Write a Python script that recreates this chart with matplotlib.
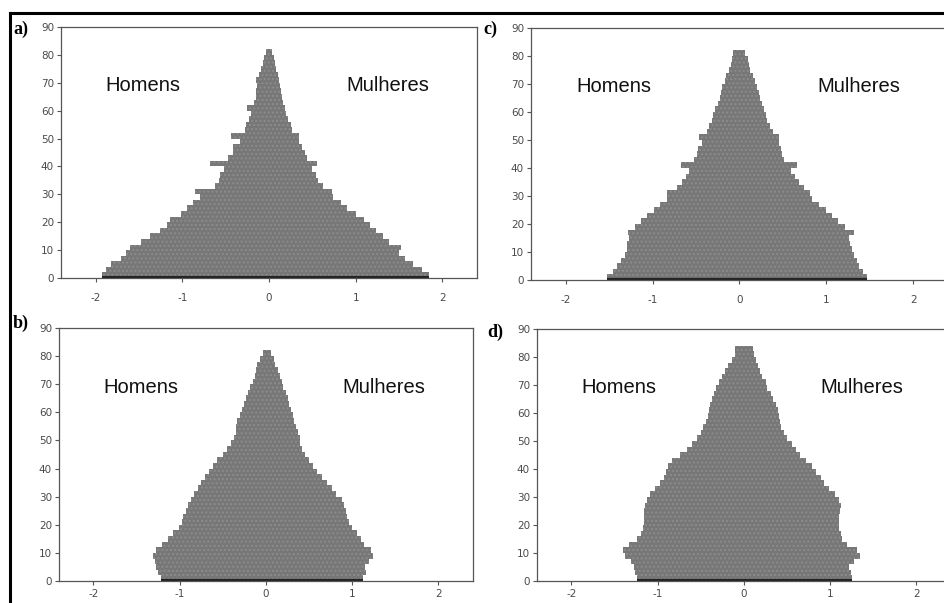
import numpy as np
import matplotlib
matplotlib.use("Agg")
import matplotlib.pyplot as plt
from matplotlib.lines import Line2D

plt.rcParams["axes.unicode_minus"] = False

# single-year ages binned by 2, value holds over [age, age+2)
ages = np.arange(0, 86, 2)

men_a = [1.93, 1.88, 1.82, 1.71, 1.65, 1.60, 1.48, 1.37, 1.26, 1.18,
         1.14, 1.02, 0.95, 0.88, 0.80, 0.85, 0.62, 0.58, 0.56, 0.52,
         0.68, 0.47, 0.42, 0.42, 0.33, 0.44, 0.28, 0.27, 0.23, 0.21,
         0.25, 0.17, 0.15, 0.15, 0.14, 0.15, 0.11, 0.09, 0.07, 0.055,
         0.04, 0.0, 0.0]
women_a = [1.85, 1.77, 1.66, 1.57, 1.50, 1.52, 1.39, 1.31, 1.24, 1.16,
           1.10, 1.00, 0.90, 0.83, 0.74, 0.73, 0.62, 0.57, 0.54, 0.50,
           0.55, 0.44, 0.41, 0.385, 0.35, 0.35, 0.27, 0.25, 0.22, 0.20,
           0.19, 0.165, 0.15, 0.14, 0.13, 0.12, 0.10, 0.08, 0.065, 0.055,
           0.04, 0.0, 0.0]

men_b = [1.22, 1.25, 1.27, 1.29, 1.31, 1.28, 1.20, 1.14, 1.08, 1.01,
         0.97, 0.96, 0.93, 0.90, 0.87, 0.83, 0.79, 0.75, 0.71, 0.66,
         0.62, 0.57, 0.50, 0.45, 0.40, 0.37, 0.35, 0.35, 0.34, 0.30,
         0.28, 0.26, 0.23, 0.21, 0.18, 0.15, 0.13, 0.12, 0.10, 0.07,
         0.04, 0.0, 0.0]
women_b = [1.13, 1.16, 1.15, 1.20, 1.24, 1.22, 1.14, 1.10, 1.05, 1.00,
           0.96, 0.94, 0.93, 0.91, 0.88, 0.81, 0.76, 0.71, 0.65, 0.59,
           0.55, 0.50, 0.45, 0.42, 0.40, 0.39, 0.37, 0.35, 0.33, 0.31,
           0.29, 0.27, 0.25, 0.23, 0.20, 0.18, 0.16, 0.14, 0.11, 0.09,
           0.06, 0.0, 0.0]

men_c = [1.52, 1.46, 1.41, 1.36, 1.32, 1.30, 1.29, 1.27, 1.28, 1.20,
         1.13, 1.06, 0.98, 0.91, 0.84, 0.84, 0.72, 0.66, 0.62, 0.58,
         0.67, 0.52, 0.49, 0.48, 0.43, 0.47, 0.37, 0.35, 0.32, 0.30,
         0.28, 0.25, 0.23, 0.21, 0.20, 0.17, 0.15, 0.12, 0.10, 0.09,
         0.07, 0.0, 0.0]
women_c = [1.47, 1.42, 1.38, 1.35, 1.32, 1.29, 1.27, 1.26, 1.32, 1.22,
           1.13, 1.06, 0.99, 0.92, 0.84, 0.815, 0.74, 0.69, 0.64, 0.59,
           0.66, 0.51, 0.49, 0.48, 0.45, 0.45, 0.38, 0.35, 0.32, 0.30,
           0.28, 0.26, 0.24, 0.22, 0.20, 0.18, 0.16, 0.12, 0.11, 0.10,
           0.065, 0.0, 0.0]

men_d = [1.24, 1.26, 1.28, 1.31, 1.38, 1.40, 1.33, 1.24, 1.19, 1.17,
         1.16, 1.16, 1.16, 1.15, 1.13, 1.09, 1.03, 0.97, 0.93, 0.90,
         0.88, 0.83, 0.74, 0.66, 0.60, 0.55, 0.50, 0.47, 0.44, 0.42,
         0.40, 0.39, 0.375, 0.35, 0.32, 0.29, 0.26, 0.22, 0.18, 0.14,
         0.11, 0.10, 0.0]
women_d = [1.25, 1.24, 1.22, 1.27, 1.34, 1.31, 1.20, 1.14, 1.12, 1.10,
           1.10, 1.10, 1.11, 1.12, 1.10, 1.05, 0.98, 0.93, 0.89, 0.84,
           0.79, 0.72, 0.65, 0.60, 0.56, 0.50, 0.46, 0.43, 0.42, 0.41,
           0.39, 0.37, 0.34, 0.31, 0.27, 0.25, 0.21, 0.19, 0.16, 0.14,
           0.12, 0.10, 0.0]

panel_labels = ["a)", "b)", "c)", "d)"]
xticks = [-2, -1, 0, 1, 2]
yticks = list(range(0, 100, 10))

W, H = 945, 603
fig = plt.figure(figsize=(W / 100, H / 100), dpi=100)

def px_box(l, r, t, b):
    return [l / W, 1 - b / H, (r - l) / W, (b - t) / H]

boxes = [px_box(61, 477, 27, 278),
         px_box(59, 473, 328, 581),
         px_box(531, 948, 28, 280),
         px_box(537, 951, 329, 581)]
label_pos = [(13, 29), (13, 323), (483, 29), (487, 332)]
xpads = [8, 3, 8, 3]
series = [(men_a, women_a), (men_b, women_b), (men_c, women_c), (men_d, women_d)]

fill_col = "#777777"
axis_col = "#555555"

for box, (men, women), lab, (lx, ly), xp in zip(boxes, series, panel_labels, label_pos, xpads):
    ax = fig.add_axes(box)
    m = -np.array(men)
    w = np.array(women)
    ax.fill_betweenx(ages, m, w, step="post", facecolor=fill_col,
                     edgecolor="#8c8c8c", hatch="....", linewidth=0)
    # dark base line at age 0
    ax.plot([m[0], w[0]], [0.3, 0.3], color="#222222", lw=1.6,
            solid_capstyle="butt")

    ax.set_xlim(-2.4, 2.4)
    ax.set_ylim(0, 90)
    ax.set_xticks(xticks)
    ax.set_yticks(yticks)
    ax.tick_params(direction="out", length=3, width=0.8, color=axis_col,
                   labelcolor="#4a4a4a", labelsize=7.5)
    ax.tick_params(axis="x", pad=xp)
    ax.tick_params(axis="y", pad=2)
    for s in ax.spines.values():
        s.set_color(axis_col)
        s.set_linewidth(0.9)

    ax.text(-1.45, 69, "Homens", ha="center", va="center", fontsize=14.5,
            family="Liberation Sans", color="#111111")
    ax.text(1.37, 69, "Mulheres", ha="center", va="center", fontsize=14.5,
            family="Liberation Sans", color="#111111")

    fig.text(lx / W, 1 - ly / H, lab, ha="left", va="center", fontsize=13,
             fontweight="bold", family="Liberation Serif")

# outer frame (top and left edges)
fig.add_artist(Line2D([10 / W, 1.0], [1 - 13 / H, 1 - 13 / H],
                      color="black", lw=2.2, transform=fig.transFigure))
fig.add_artist(Line2D([10 / W, 10 / W], [1 - 13 / H, 0.0],
                      color="black", lw=2.2, transform=fig.transFigure))

fig.savefig("out.png", dpi=100)
